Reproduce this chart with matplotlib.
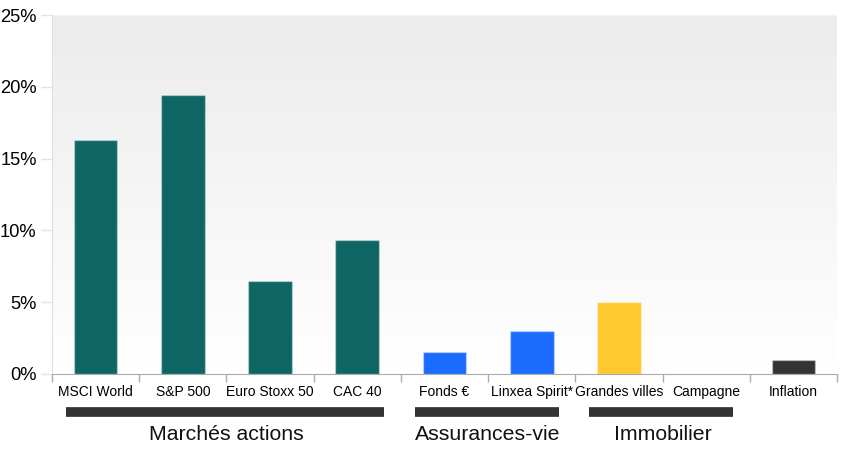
import numpy as np
import matplotlib
matplotlib.use("Agg")
import matplotlib.pyplot as plt
from matplotlib.ticker import FuncFormatter

plt.rcParams["font.family"] = ["Liberation Sans", "DejaVu Sans"]

# ------------------------------------------------------------------
# data
# ------------------------------------------------------------------
categories = ["MSCI World", "S&P 500", "Euro Stoxx 50", "CAC 40",
              "Fonds €", "Linxea Spirit*", "Grandes villes", "Campagne",
              "Inflation"]
values = [16.3, 19.4, 6.5, 9.3, 1.5, 3.0, 5.0, 0.0, 1.0]
colors = ["#0e6664", "#0e6664", "#0e6664", "#0e6664",
          "#1a6cff", "#1a6cff", "#fdc92f", "#fdc92f", "#333333"]

groups = ["Marchés actions", "Assurances-vie", "Immobilier"]
group_first = [0, 4, 6]
group_last = [3, 5, 7]

# ------------------------------------------------------------------
fig = plt.figure(figsize=(8.44, 4.5), dpi=100)
ax = fig.add_axes([52 / 844, 76 / 450, 785 / 844, 359 / 450])

n = len(categories)
x = np.arange(n)

# background gradient
grad = np.linspace(0.925, 1.0, 256).reshape(-1, 1)
ax.imshow(np.dstack([grad, grad, grad]), extent=[-0.5, n - 0.5, 0, 25],
          aspect="auto", origin="upper", zorder=0)

ax.bar(x, values, width=0.5, color=colors, edgecolor=(1, 1, 1, 0.35),
       linewidth=1, zorder=2)

ax.set_xlim(-0.5, n - 0.5)
ax.set_ylim(0, 25)

ax.set_yticks([0, 5, 10, 15, 20, 25])
ax.yaxis.set_major_formatter(FuncFormatter(lambda v, p: f"{v:.0f}%"))
ax.tick_params(axis="y", length=8, width=1, color="#e4e4e4",
               labelsize=13.2, pad=3)

ax.set_xticks(x)
ax.set_xticklabels(categories, fontsize=10)
ax.set_xticks(np.arange(n + 1) - 0.5, minor=True)
ax.tick_params(axis="x", which="major", length=0, pad=8)
ax.tick_params(axis="x", which="minor", length=6, width=1, color="#aaaaaa")

for s in ["top", "right"]:
    ax.spines[s].set_visible(False)
ax.spines["left"].set_color("#e0e0e0")
ax.spines["bottom"].set_color("#aaaaaa")
ax.axhline(25, color="#f4f4f4", linewidth=1, zorder=1)

# group bars and labels
trans = ax.get_xaxis_transform()
for name, a, b in zip(groups, group_first, group_last):
    ax.plot([a - 0.34, b + 0.31], [-0.105, -0.105], transform=trans,
            color="#333333", linewidth=7, solid_capstyle="butt",
            clip_on=False)
    ax.text((a + b) / 2, -0.168, name, transform=trans, ha="center",
            va="center", fontsize=15.3, color="#111111")

fig.savefig("out.png", dpi=100)
plt.close(fig)
